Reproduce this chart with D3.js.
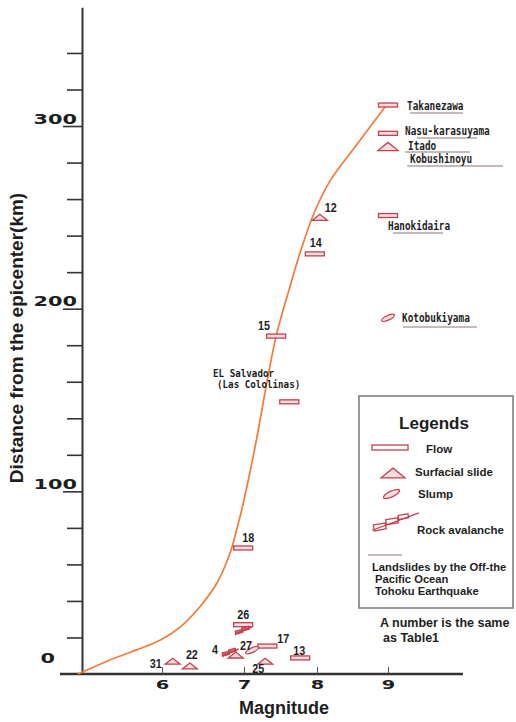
<!DOCTYPE html>
<html><head><meta charset="utf-8">
<script src="https://cdn.jsdelivr.net/npm/d3@7"></script>
<style>body{margin:0;background:#fff}svg{display:block}</style>
</head><body><svg id="c" width="516" height="722"></svg>
<script>
// ---------- data ----------
const curveMag  = [4.95, 5.35, 5.98, 6.22, 6.46, 6.67, 6.83, 6.91, 6.98, 7.15, 7.32, 7.44, 7.616, 7.767, 7.96, 8.19, 8.535, 9.0];
const curveDist = [0, 7.7, 18.6, 25.7, 36.7, 49.8, 66.2, 78.8, 91.4, 124, 161, 185, 210.2, 230.5, 252.4, 270.4, 288.5, 312.6];

const flowMag   = [9.0, 9.0, 9.0, 7.97, 7.44, 7.62, 6.99, 6.99, 7.32, 7.77];
const flowDist  = [311.5, 296, 251, 230, 185, 149, 69, 27, 15.3, 8.8];
const flowLabel = ["Takanezawa", "Nasu-karasuyama", "Hanokidaira", "14", "15", "EL Salvador", "18", "26", "17", "13"];

const slideMag   = [9.0, 8.04, 6.90, 7.29, 6.34, 6.13];
const slideDist  = [288.8, 250, 10.4, 7, 4.4, 7];
const slideLabel = ["Itado", "12", "", "25", "22", "31"];

const slumpMag   = [9.0, 7.11];
const slumpDist  = [195, 13];
const slumpLabel = ["Kotobukiyama", "27"];

const rockMag   = [6.99, 6.83];
const rockDist  = [24, 12];
const rockLabel = ["", "4"];

const xTickValues = [6, 7, 8, 9];
const yTickValues = [0, 20, 40, 60, 80, 100, 120, 140, 160, 180, 200, 220, 240, 260, 280, 300, 320, 340];
const yTickLabels = [0, 100, 200, 300];

const tohokuNames = ["Takanezawa", "Nasu-karasuyama", "Itado", "Kobushinoyu", "Hanokidaira", "Kotobukiyama"];
const salvadorText = ["EL Salvador", "(Las Cololinas)"];
const legendTitle = "Legends";
const legendLabels = ["Flow", "Surfacial slide", "Slump", "Rock avalanche"];
const legendNote = ["Landslides by the Off-the", "Pacific Ocean", "Tohoku Earthquake"];
const tableNote = ["A number is the same", "as Table1"];

// ---------- layout ----------
const MARK = "#c2404f", MARKFILL = "#f7dce0", TXT = "#1e1e1e", CURVE = "#f47a36", LINEGRAY = "#8a767a";
const numOffset = { "12":[5,-5], "14":[-5,-7], "15":[-18,-6], "18":[-1,-6], "26":[-6,-6], "17":[10,-3],
                    "27":[-12,0], "4":[-18,2], "25":[-13,12], "13":[-7,-3], "22":[-4,-7], "31":[-23,7] };
const namePos = { "Takanezawa":[407,110,410,463,113], "Nasu-karasuyama":[405,135,417,477,138],
                  "Itado":[408,150,405,470,152], "Kobushinoyu":[410,163,407,503,166],
                  "Hanokidaira":[388,230,393,443,233], "Kotobukiyama":[402,322,403,477,327] };
const salvadorPos = [[213,377],[217,388]];

const svg = d3.select("#c");
svg.append("rect").attr("width",516).attr("height",722).attr("fill","#fff");

const x = d3.scaleLinear().domain([5,6,7,8,9]).range([82,162,244,317,388]);
const y = d3.scaleLinear().domain([0,365]).range([674,7.3]);

// ---------- axes ----------
const gy = svg.append("g").attr("transform","translate(82,0)")
  .call(d3.axisLeft(y).tickValues(yTickValues).tickSizeInner(15).tickSizeOuter(0)
        .tickFormat(d => yTickLabels.includes(d) ? String(d) : ""));
gy.select(".domain").attr("stroke","#333").attr("stroke-width",2);
gy.selectAll(".tick line").attr("stroke","#333").attr("stroke-width",1.6)
  .attr("x2", d => yTickLabels.includes(d) ? -19 : -15)
  .attr("display", d => d === 0 ? "none" : null);
gy.selectAll(".tick text").filter(d => !yTickLabels.includes(d)).remove();
gy.selectAll(".tick text")
  .attr("font-family","DejaVu Sans").attr("font-weight","bold").attr("font-size",14).attr("fill",TXT)
  .attr("x", d => d === 0 ? -27 : -5).attr("dy", d => d === 0 ? -12 : -3)
  .attr("textLength", d => String(d).length * 14.5).attr("lengthAdjust","spacingAndGlyphs");

const gx = svg.append("g").attr("transform","translate(0,674)")
  .call(d3.axisBottom(x).tickValues(xTickValues).tickFormat(d3.format("d"))
        .tickSizeInner(-7).tickSizeOuter(0).tickPadding(0));
gx.select(".domain").remove();
gx.insert("line",":first-child").attr("x1",60).attr("x2",463).attr("stroke","#333").attr("stroke-width",2.4);
gx.selectAll(".tick line").attr("stroke","#555").attr("stroke-width",1);
gx.selectAll(".tick text")
  .attr("font-family","DejaVu Sans").attr("font-weight","bold").attr("font-size",12.5).attr("fill",TXT)
  .attr("y",6).attr("textLength",13.5).attr("lengthAdjust","spacingAndGlyphs");

svg.append("text").attr("transform","translate(23,338) rotate(-90)").attr("text-anchor","middle")
  .attr("font-family","Liberation Sans, Arial, sans-serif").attr("font-weight","bold").attr("font-size",19)
  .attr("fill",TXT).text("Distance from the epicenter(km)");
svg.append("text").attr("x",284).attr("y",714).attr("text-anchor","middle")
  .attr("font-family","Liberation Sans, Arial, sans-serif").attr("font-weight","bold").attr("font-size",18)
  .attr("fill",TXT).text("Magnitude");

// ---------- curve ----------
const line = d3.line().x(i => x(curveMag[i])).y(i => y(curveDist[i])).curve(d3.curveCatmullRom.alpha(0.5));
svg.append("path").attr("d", line(d3.range(curveMag.length))).attr("fill","none")
  .attr("stroke",CURVE).attr("stroke-width",1.7);

// ---------- marker helpers ----------
function tri(g, s){ g.append("path").attr("d",`M${-7.5*s},${3*s}L${7.5*s},${3*s}L0,${-3*s}Z`)
  .attr("fill",MARKFILL).attr("stroke",MARK).attr("stroke-width",1.3); }
function slump(g, s){ g.append("ellipse").attr("rx",7*s).attr("ry",2.3*s).attr("transform","rotate(-25)")
  .attr("fill",MARKFILL).attr("stroke",MARK).attr("stroke-width",1.3); }
function rockBig(g){
  const r = g.append("g").attr("transform","rotate(-10)");
  [[-23,0,12,6],[-10,-3,12,5],[3,-5,10,4]].forEach(b => r.append("rect").attr("x",b[0]).attr("y",b[1])
    .attr("width",b[2]).attr("height",b[3]).attr("fill","#fff").attr("stroke",MARK).attr("stroke-width",1.3));
  r.append("line").attr("x1",-25).attr("y1",5).attr("x2",24).attr("y2",-4).attr("stroke",MARK).attr("stroke-width",1.3);
}
function rockSmall(g){
  const r = g.append("g").attr("transform","rotate(-14)");
  [[-8,-1,7,3],[-1,-2.5,7,3]].forEach(b => r.append("rect").attr("x",b[0]).attr("y",b[1])
    .attr("width",b[2]).attr("height",b[3]).attr("fill","#d86a78").attr("stroke",MARK).attr("stroke-width",1.2));
  r.append("line").attr("x1",-9).attr("y1",2.2).attr("x2",9).attr("y2",-1).attr("stroke",MARK).attr("stroke-width",1.6);
}

const marks = svg.append("g");
flowMag.forEach((m,i) => {
  marks.append("rect").attr("x",x(m)-9.5).attr("y",y(flowDist[i])-2).attr("width",19).attr("height",4)
    .attr("fill",MARKFILL).attr("stroke",MARK).attr("stroke-width",1.3);
});
slideMag.forEach((m,i) => { tri(marks.append("g").attr("transform",`translate(${x(m)},${y(slideDist[i])})`), slideLabel[i]==="Itado"?1.35:1); });
slumpMag.forEach((m,i) => { slump(marks.append("g").attr("transform",`translate(${x(m)},${y(slumpDist[i])})`), 1); });
rockMag.forEach((m,i) => { rockSmall(marks.append("g").attr("transform",`translate(${x(m)},${y(rockDist[i])})`)); });

// ---------- number labels ----------
const allPts = [];
flowLabel.forEach((l,i)=>allPts.push([l,flowMag[i],flowDist[i]]));
slideLabel.forEach((l,i)=>allPts.push([l,slideMag[i],slideDist[i]]));
slumpLabel.forEach((l,i)=>allPts.push([l,slumpMag[i],slumpDist[i]]));
rockLabel.forEach((l,i)=>allPts.push([l,rockMag[i],rockDist[i]]));
allPts.filter(p => numOffset[p[0]]).forEach(p => {
  const o = numOffset[p[0]];
  svg.append("text").attr("x", x(p[1]) + o[0]).attr("y", y(p[2]) + o[1])
    .attr("font-family","Liberation Sans, Arial, sans-serif").attr("font-weight","bold").attr("font-size",12)
    .attr("fill",TXT).attr("textLength", 6*p[0].length).attr("lengthAdjust","spacingAndGlyphs").text(p[0]);
});

// ---------- Tohoku names ----------
tohokuNames.forEach(n => {
  const p = namePos[n];
  svg.append("line").attr("x1",p[2]).attr("x2",p[3]).attr("y1",p[4]).attr("y2",p[4])
    .attr("stroke",LINEGRAY).attr("stroke-width",1);
  svg.append("text").attr("x",p[0]).attr("y",p[1]).attr("font-family","DejaVu Sans Mono, Liberation Mono, monospace")
    .attr("font-weight","bold").attr("font-size",11.5).attr("fill",TXT)
    .attr("textLength",5.65*n.length).attr("lengthAdjust","spacingAndGlyphs").text(n);
});
salvadorText.forEach((t,i) => {
  svg.append("text").attr("x",salvadorPos[i][0]).attr("y",salvadorPos[i][1])
    .attr("font-family","DejaVu Sans Mono, Liberation Mono, monospace").attr("font-weight","bold")
    .attr("font-size",10).attr("fill",TXT)
    .attr("textLength",5.55*t.length).attr("lengthAdjust","spacingAndGlyphs").text(t);
});

// ---------- legend ----------
const lg = svg.append("g");
lg.append("rect").attr("x",359).attr("y",396).attr("width",154).attr("height",212)
  .attr("fill","#fff").attr("stroke","#777").attr("stroke-width",1.5);
lg.append("text").attr("x",434).attr("y",429).attr("text-anchor","middle")
  .attr("font-family","Liberation Sans, Arial, sans-serif").attr("font-weight","bold").attr("font-size",17)
  .attr("fill",TXT).text(legendTitle);
lg.append("rect").attr("x",372).attr("y",445).attr("width",36).attr("height",5)
  .attr("fill","#fff").attr("stroke",MARK).attr("stroke-width",1.3);
tri(lg.append("g").attr("transform","translate(393,473)"), 1.6);
slump(lg.append("g").attr("transform","translate(391.5,494)"), 1.25);
rockBig(lg.append("g").attr("transform","translate(396,521)"));
const legPos = [[426,453],[415,476],[418,498],[417,534]];
legendLabels.forEach((t,i) => lg.append("text").attr("x",legPos[i][0]).attr("y",legPos[i][1])
  .attr("font-family","Liberation Sans, Arial, sans-serif").attr("font-weight","bold").attr("font-size",11.5)
  .attr("fill",TXT).text(t));
lg.append("line").attr("x1",368).attr("x2",402).attr("y1",555).attr("y2",555).attr("stroke",LINEGRAY).attr("stroke-width",1);
const notePos = [[372,571],[375,583],[375,595]];
legendNote.forEach((t,i) => lg.append("text").attr("x",notePos[i][0]).attr("y",notePos[i][1])
  .attr("font-family","Liberation Sans, Arial, sans-serif").attr("font-weight","bold").attr("font-size",11.2)
  .attr("fill",TXT).text(t));
const tabPos = [[380,627],[383,642]];
tableNote.forEach((t,i) => svg.append("text").attr("x",tabPos[i][0]).attr("y",tabPos[i][1])
  .attr("font-family","Liberation Sans, Arial, sans-serif").attr("font-weight","bold").attr("font-size",12.5)
  .attr("fill",TXT).text(t));
</script></body></html>
